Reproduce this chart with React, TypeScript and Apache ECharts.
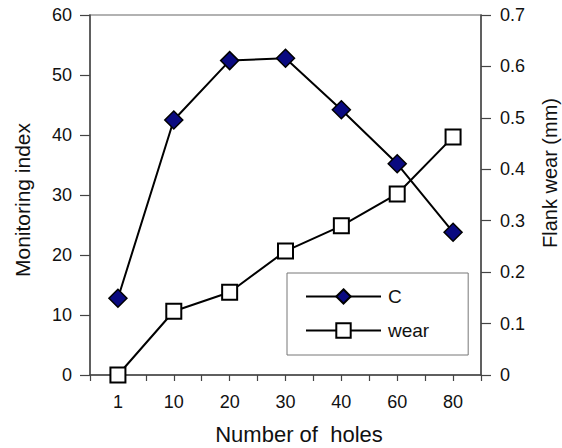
import React, { useEffect, useRef } from "react";
import * as echarts from "echarts";

const categories = ["1", "10", "20", "30", "40", "60", "80"];
const cValues = [12.8, 42.5, 52.4, 52.8, 44.2, 35.2, 23.8];
const wearValues = [0, 0.124, 0.161, 0.241, 0.29, 0.352, 0.463];
const leftTicks = { min: 0, max: 60, interval: 10 };
const rightTicks = { min: 0, max: 0.7, interval: 0.1 };
const xTitle = "Number of  holes";
const leftTitle = "Monitoring index";
const rightTitle = "Flank wear (mm)";

const FONT = "Liberation Sans";

export default function App() {
  const ref = useRef<HTMLDivElement>(null);
  useEffect(() => {
    document.body.style.margin = "0";
    if (!ref.current) return;
    const chart = echarts.init(ref.current, undefined, { renderer: "svg" });
    const labelFor = (v: number) => {
      const i = categories.findIndex((_, k) => Math.abs(v - (k + 0.5)) < 1e-6);
      return i >= 0 ? categories[i] : "";
    };
    chart.setOption({
      animation: false,
      backgroundColor: "#fff",
      textStyle: { fontFamily: FONT, color: "#111" },
      grid: {
        left: 90,
        right: 81,
        top: 15,
        bottom: 73,
        show: true,
        borderColor: "#999",
        borderWidth: 1.5,
      },
      graphic: [
        {
          type: "text",
          x: 22,
          y: 200,
          rotation: Math.PI / 2,
          style: {
            text: leftTitle,
            fontFamily: FONT,
            fontSize: 21,
            fill: "#111",
            textAlign: "center",
            textVerticalAlign: "middle",
          },
        },
        {
          type: "text",
          x: 550,
          y: 173,
          rotation: Math.PI / 2,
          style: {
            text: rightTitle,
            fontFamily: FONT,
            fontSize: 20,
            fill: "#111",
            textAlign: "center",
            textVerticalAlign: "middle",
          },
        },
        {
          type: "text",
          x: 299,
          y: 434,
          style: {
            text: xTitle,
            fontFamily: FONT,
            fontSize: 22,
            fill: "#111",
            textAlign: "center",
            textVerticalAlign: "middle",
          },
        },
      ],
      legend: {
        orient: "vertical",
        left: 287,
        top: 273,
        padding: [14, 39, 15, 18],
        itemWidth: 75,
        itemHeight: 18,
        itemGap: 15,
        borderColor: "#777",
        borderWidth: 1,
        backgroundColor: "#fff",
        textStyle: { fontFamily: FONT, fontSize: 19, color: "#111", padding: [0, 0, 0, 2] },
        data: ["C", "wear"],
      },
      xAxis: {
        type: "value",
        min: 0,
        max: categories.length,
        interval: 0.5,
        axisLine: { lineStyle: { color: "#444", width: 1.5 } },
        axisTick: { show: true, inside: false, length: 6, lineStyle: { color: "#444", width: 1.2 } },
        axisLabel: {
          fontFamily: FONT,
          fontSize: 18,
          color: "#111",
          margin: 18,
          formatter: (v: number) => labelFor(v),
        },
        splitLine: { show: false },
      },
      yAxis: [
        {
          type: "value",
          position: "left",
          ...leftTicks,
          axisLine: { show: true, lineStyle: { color: "#444", width: 1.5 } },
          axisTick: { show: true, inside: false, length: 10, lineStyle: { color: "#444", width: 1.2 } },
          axisLabel: { fontFamily: FONT, fontSize: 18, color: "#111", margin: 18 },
          splitLine: { show: false },
        },
        {
          type: "value",
          position: "right",
          ...rightTicks,
          axisLine: { show: true, lineStyle: { color: "#444", width: 1.5 } },
          axisTick: { show: true, inside: false, length: 10, lineStyle: { color: "#444", width: 1.2 } },
          axisLabel: { fontFamily: FONT, fontSize: 18, color: "#111", margin: 19 },
          splitLine: { show: false },
        },
      ],
      series: [
        {
          name: "wear",
          type: "line",
          yAxisIndex: 1,
          data: wearValues.map((v, i) => [i + 0.5, v]),
          symbol: "rect",
          symbolSize: 15,
          lineStyle: { color: "#000", width: 2 },
          itemStyle: { color: "#fff", borderColor: "#000", borderWidth: 2 },
          z: 2,
        },
        {
          name: "C",
          type: "line",
          yAxisIndex: 0,
          data: cValues.map((v, i) => [i + 0.5, v]),
          symbol: "diamond",
          symbolSize: 18,
          lineStyle: { color: "#000", width: 2 },
          itemStyle: { color: "#0a0a80", borderColor: "#000", borderWidth: 1.5 },
          z: 3,
        },
      ],
    });
    return () => chart.dispose();
  }, []);
  return <div ref={ref} style={{ width: 562, height: 448 }} />;
}
